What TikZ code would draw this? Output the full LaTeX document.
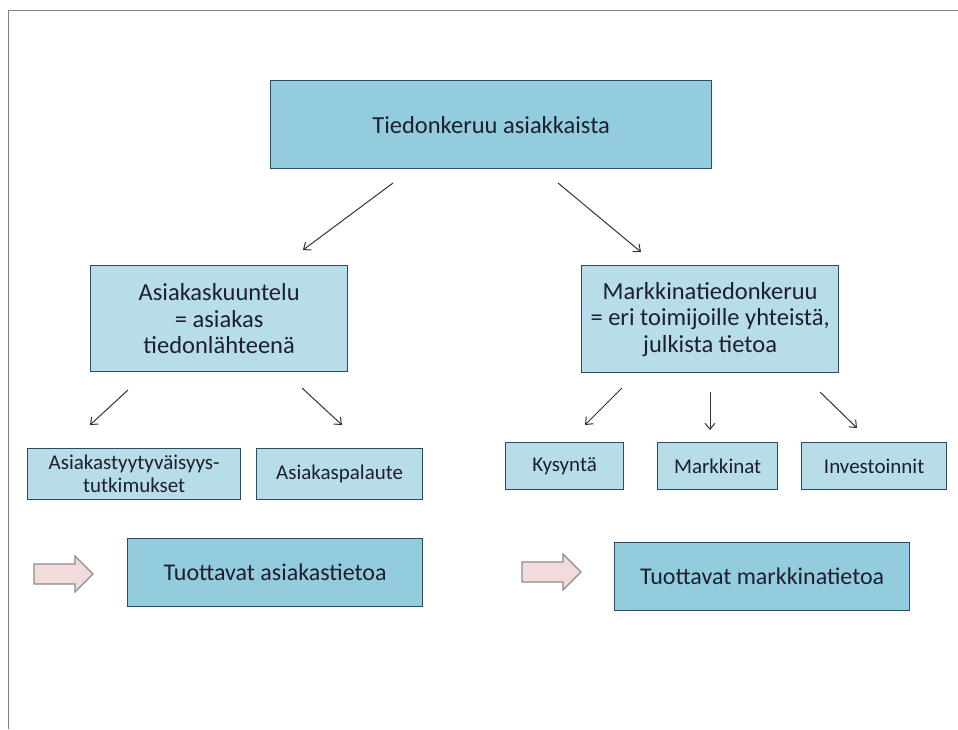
\documentclass[tikz,border=0pt]{standalone}
\usepackage{fontspec}
\setmainfont{Carlito}
\usetikzlibrary{arrows.meta}
\definecolor{fillA}{HTML}{93CDDD}
\definecolor{fillB}{HTML}{B7DDE8}
\definecolor{edgeC}{HTML}{2E4A68}
\definecolor{arrFill}{HTML}{F2DCDB}
\definecolor{arrEdge}{HTML}{8C8C8C}
\definecolor{txt}{HTML}{1E1E30}
\tikzset{
  x=1pt, y=-1pt,
  box/.style={draw=edgeC, line width=1.3pt, anchor=north west, inner sep=0pt, align=center, text=txt},
  darkbox/.style={box, fill=fillA},
  lightbox/.style={box, fill=fillB},
  conn/.style={draw=black!80, line width=1pt, -{Straight Barb[length=6pt,width=10pt]}},
  blockarrow/.style={draw=arrEdge, line width=1.2pt, fill=arrFill, line join=miter},
}
\begin{document}
\begin{tikzpicture}
\useasboundingbox (0,0) rectangle (958,729);
\draw[gray, line width=1pt] (8,729) -- (8,10) -- (958,10);

\node[darkbox, minimum width=441pt, minimum height=88pt, font=\fontsize{24.5}{28}\selectfont] (top) at (270,80) {Tiedonkeruu asiakkaista};

\node[lightbox, minimum width=257pt, minimum height=106pt, font=\fontsize{24.5}{26.5}\selectfont] (left) at (90,265) {Asiakaskuuntelu\\= asiakas\\tiedonlähteenä};
\node[lightbox, minimum width=257pt, minimum height=107pt, font=\fontsize{24.5}{26.5}\selectfont] (right) at (581,265) {Markkinatiedonkeruu\\= eri toimijoille yhteistä,\\julkista tietoa};

\node[lightbox, minimum width=213pt, minimum height=51pt, font=\fontsize{21}{23}\selectfont] (s1) at (27,448) {Asiakastyytyväisyys-\\tutkimukset};
\node[lightbox, minimum width=166pt, minimum height=51pt, font=\fontsize{21}{23}\selectfont] (s2) at (256,448) {Asiakaspalaute};
\node[lightbox, minimum width=118pt, minimum height=47pt, font=\fontsize{21}{23}\selectfont] (s3) at (505,442) {Kysyntä};
\node[lightbox, minimum width=120pt, minimum height=47pt, font=\fontsize{21}{23}\selectfont] (s4) at (657,442) {Markkinat};
\node[lightbox, minimum width=145pt, minimum height=47pt, font=\fontsize{21}{23}\selectfont] (s5) at (801,442) {Investoinnit};

\node[darkbox, minimum width=295pt, minimum height=68pt, font=\fontsize{24}{28}\selectfont] (b1) at (127,538) {Tuottavat asiakastietoa};
\node[darkbox, minimum width=295pt, minimum height=68pt, font=\fontsize{24}{28}\selectfont] (b2) at (614,542) {Tuottavat markkinatietoa};

% free-standing arrows
\coordinate (a1s) at (393,183); \coordinate (a1e) at (303,250);
\coordinate (a2s) at (558,183); \coordinate (a2e) at (641,252);
\coordinate (a3s) at (128,390); \coordinate (a3e) at (90,425);
\coordinate (a4s) at (302,388); \coordinate (a4e) at (342,425);
\coordinate (a5s) at (622,388); \coordinate (a5e) at (585,425);
\coordinate (a6s) at (710,392); \coordinate (a6e) at (710,430);
\coordinate (a7s) at (820,392); \coordinate (a7e) at (857,428);
\foreach \i in {1,...,7} { \draw[conn] (a\i s) -- (a\i e); }

% block arrows
\draw[blockarrow] (34,564) -- (75,564) -- (75,556) -- (93,574) -- (75,592) -- (75,584) -- (34,584) -- cycle;
\draw[blockarrow] (522,562) -- (563,562) -- (563,554) -- (581,572) -- (563,590) -- (563,582) -- (522,582) -- cycle;
\end{tikzpicture}
\end{document}
